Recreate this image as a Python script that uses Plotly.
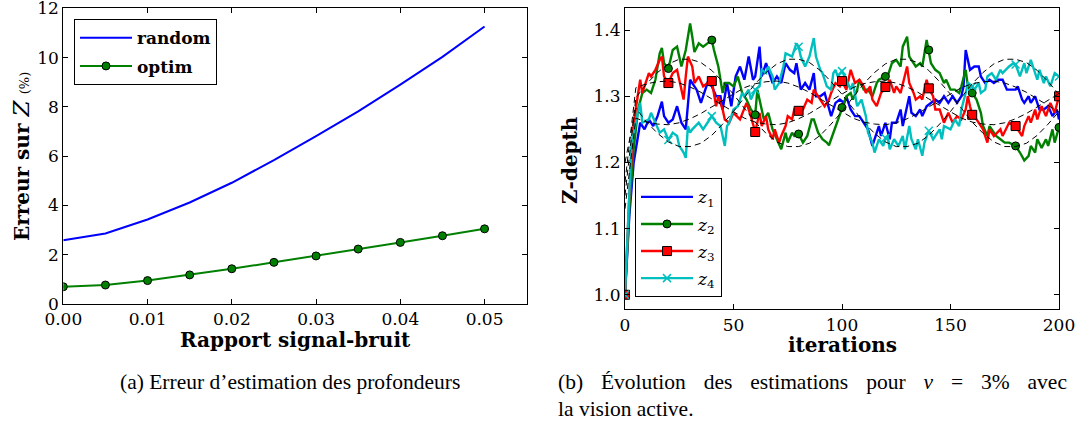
import plotly.graph_objects as go

# (a) erreur d'estimation des profondeurs
snr = [0.0, 0.005, 0.01, 0.015, 0.02, 0.025, 0.03, 0.035, 0.04, 0.045, 0.05]
err_random = [2.59, 2.86, 3.43, 4.12, 4.92, 5.84, 6.81, 7.82, 8.9, 10.03, 11.26]
err_optim = [0.70, 0.77, 0.95, 1.18, 1.43, 1.69, 1.95, 2.23, 2.50, 2.77, 3.05]

# (b) evolution des estimations (iteration, valeur)
it_z1 = [0, 2, 4, 6, 7, 9, 11, 13, 15, 17, 18, 20, 22, 24, 26, 28, 30, 31, 33, 35,
         37, 38, 40, 42, 44, 45, 47, 49, 51, 53, 55, 57, 59, 60, 62, 63, 65, 66, 68, 70,
         72, 74, 76, 78, 79, 81, 83, 85, 87, 88, 90, 92, 94, 95, 97, 99, 101, 102, 104, 106,
         108, 110, 112, 114, 115, 117, 118, 120, 122, 123, 125, 127, 128, 131, 132, 134, 136, 137, 139, 141,
         143, 145, 147, 149, 151, 153, 155, 156, 157, 159, 161, 163, 164, 166, 168, 170, 172, 174, 176, 178,
         180, 181, 183, 184, 186, 187, 189, 191, 193, 195, 197, 199, 200]
z1 = [1.0, 1.12, 1.2, 1.245, 1.26, 1.25, 1.265, 1.255, 1.27, 1.292, 1.27, 1.26, 1.265, 1.285, 1.26, 1.25, 1.325, 1.32, 1.31, 1.29,
      1.31, 1.32, 1.315, 1.30, 1.30, 1.28, 1.32, 1.285, 1.33, 1.345, 1.325, 1.36, 1.325, 1.33, 1.375, 1.33, 1.35, 1.34, 1.32, 1.33,
      1.32, 1.35, 1.34, 1.335, 1.35, 1.31, 1.32, 1.31, 1.335, 1.30, 1.30, 1.305, 1.28, 1.27, 1.29, 1.295, 1.29, 1.30, 1.28, 1.27,
      1.27, 1.26, 1.25, 1.225, 1.235, 1.255, 1.24, 1.26, 1.235, 1.26, 1.26, 1.28, 1.255, 1.30, 1.275, 1.27, 1.28, 1.27, 1.285, 1.29,
      1.295, 1.29, 1.30, 1.29, 1.30, 1.29, 1.30, 1.315, 1.37, 1.34, 1.345, 1.345, 1.33, 1.32, 1.325, 1.32, 1.325, 1.325, 1.31, 1.31,
      1.31, 1.315, 1.295, 1.29, 1.30, 1.29, 1.30, 1.28, 1.28, 1.285, 1.27, 1.28, 1.265]

it_z2 = [0, 2, 4, 6, 8, 10, 12, 14, 16, 17, 18, 20, 22, 24, 26, 28, 29, 30, 31, 32,
         34, 36, 38, 40, 41, 42, 43, 45, 46, 48, 50, 52, 54, 56, 58, 60, 61, 63, 64, 66,
         68, 70, 72, 74, 75, 77, 78, 80, 82, 84, 86, 87, 89, 91, 93, 94, 96, 98, 100, 102,
         104, 105, 107, 108, 110, 112, 114, 116, 117, 120, 121, 123, 125, 127, 128, 130, 131, 133, 134, 136,
         137, 139, 140, 141, 143, 145, 147, 148, 150, 152, 154, 155, 157, 158, 160, 162, 164, 165, 167, 168,
         170, 171, 173, 175, 177, 180, 182, 184, 186, 187, 189, 190, 192, 194, 195, 197, 198, 200]
z2 = [1.0, 1.13, 1.22, 1.28, 1.305, 1.31, 1.305, 1.325, 1.365, 1.373, 1.35, 1.342, 1.37, 1.375, 1.345, 1.37, 1.39, 1.41, 1.39, 1.367,
      1.38, 1.375, 1.38, 1.385, 1.37, 1.355, 1.345, 1.305, 1.32, 1.32, 1.315, 1.33, 1.305, 1.295, 1.28, 1.272, 1.31, 1.28, 1.265, 1.275,
      1.25, 1.235, 1.22, 1.245, 1.23, 1.245, 1.24, 1.243, 1.23, 1.24, 1.265, 1.265, 1.245, 1.235, 1.23, 1.226, 1.244, 1.262, 1.283, 1.30,
      1.305, 1.295, 1.31, 1.325, 1.31, 1.31, 1.30, 1.32, 1.325, 1.33, 1.33, 1.35, 1.355, 1.345, 1.375, 1.39, 1.36, 1.35, 1.345, 1.35,
      1.345, 1.385, 1.37, 1.35, 1.34, 1.335, 1.32, 1.325, 1.31, 1.31, 1.305, 1.315, 1.34, 1.315, 1.305, 1.295, 1.275, 1.255, 1.24, 1.255,
      1.245, 1.24, 1.235, 1.23, 1.23, 1.225, 1.215, 1.203, 1.21, 1.225, 1.215, 1.235, 1.222, 1.235, 1.225, 1.25, 1.23, 1.253]

it_z3 = [0, 2, 4, 5, 7, 8, 11, 12, 14, 16, 17, 18, 20, 22, 24, 25, 27, 28, 29, 31,
         32, 34, 36, 38, 40, 42, 43, 45, 46, 48, 50, 53, 55, 56, 58, 60, 62, 63, 65, 66,
         68, 69, 71, 72, 74, 75, 77, 78, 80, 82, 84, 86, 87, 88, 90, 92, 94, 95, 97, 99,
         100, 102, 104, 106, 108, 110, 111, 113, 114, 116, 118, 120, 122, 124, 125, 127, 130, 131, 133, 134,
         136, 137, 139, 140, 142, 143, 145, 147, 149, 151, 153, 155, 157, 158, 159, 160, 162, 164, 165, 167,
         168, 170, 173, 174, 176, 177, 180, 183, 184, 186, 187, 189, 190, 192, 194, 196, 198, 200]
z3 = [1.0, 1.15, 1.26, 1.28, 1.325, 1.305, 1.335, 1.33, 1.34, 1.355, 1.36, 1.33, 1.32, 1.335, 1.34, 1.325, 1.295, 1.33, 1.36, 1.345,
      1.32, 1.33, 1.315, 1.32, 1.323, 1.285, 1.30, 1.28, 1.265, 1.26, 1.275, 1.265, 1.28, 1.29, 1.27, 1.246, 1.275, 1.255, 1.27, 1.25,
      1.235, 1.25, 1.23, 1.24, 1.255, 1.27, 1.265, 1.28, 1.278, 1.28, 1.295, 1.29, 1.31, 1.305, 1.295, 1.285, 1.295, 1.305, 1.32, 1.315,
      1.323, 1.31, 1.34, 1.32, 1.325, 1.315, 1.305, 1.315, 1.295, 1.285, 1.305, 1.314, 1.325, 1.305, 1.315, 1.305, 1.345, 1.32, 1.305, 1.295,
      1.30, 1.295, 1.325, 1.312, 1.30, 1.28, 1.28, 1.26, 1.275, 1.26, 1.27, 1.265, 1.28, 1.30, 1.285, 1.272, 1.265, 1.255, 1.25, 1.23,
      1.25, 1.24, 1.25, 1.24, 1.255, 1.26, 1.255, 1.24, 1.255, 1.27, 1.26, 1.28, 1.265, 1.285, 1.27, 1.29, 1.275, 1.30]

it_z4 = [0, 2, 3, 5, 7, 8, 11, 12, 14, 16, 18, 20, 22, 24, 25, 27, 28, 29, 30, 31,
         34, 36, 38, 40, 42, 44, 45, 46, 47, 48, 50, 52, 54, 55, 57, 58, 60, 62, 63, 65,
         66, 68, 69, 71, 73, 74, 77, 79, 80, 81, 83, 85, 87, 88, 90, 91, 93, 95, 96, 97,
         98, 100, 102, 104, 105, 107, 109, 111, 112, 114, 115, 117, 119, 120, 121, 122, 124, 126, 128, 129,
         131, 132, 134, 135, 137, 138, 140, 142, 144, 145, 146, 147, 150, 152, 154, 155, 157, 158, 160, 161,
         163, 164, 166, 167, 169, 171, 173, 174, 177, 179, 180, 182, 184, 185, 187, 188, 190, 191, 193, 194,
         196, 198, 200]
z4 = [1.0, 1.14, 1.23, 1.26, 1.29, 1.26, 1.265, 1.275, 1.26, 1.245, 1.25, 1.234, 1.245, 1.24, 1.225, 1.215, 1.207, 1.255, 1.245, 1.25,
      1.26, 1.25, 1.26, 1.27, 1.26, 1.255, 1.24, 1.225, 1.255, 1.26, 1.28, 1.285, 1.305, 1.30, 1.31, 1.295, 1.31, 1.315, 1.34, 1.335,
      1.345, 1.33, 1.31, 1.32, 1.345, 1.365, 1.36, 1.38, 1.375, 1.36, 1.345, 1.36, 1.388, 1.36, 1.34, 1.335, 1.315, 1.31, 1.335, 1.34,
      1.33, 1.338, 1.325, 1.31, 1.32, 1.285, 1.295, 1.27, 1.245, 1.23, 1.215, 1.235, 1.225, 1.237, 1.24, 1.22, 1.235, 1.225, 1.24, 1.22,
      1.255, 1.235, 1.22, 1.235, 1.21, 1.23, 1.248, 1.235, 1.245, 1.25, 1.235, 1.255, 1.25, 1.265, 1.255, 1.28, 1.305, 1.32, 1.315, 1.31,
      1.32, 1.305, 1.31, 1.33, 1.335, 1.325, 1.34, 1.335, 1.345, 1.35, 1.348, 1.33, 1.35, 1.335, 1.355, 1.345, 1.325, 1.34, 1.32, 1.33,
      1.315, 1.335, 1.33]

# courbes de reference (tirets noirs), une valeur toutes les 5 iterations
it_ref = list(range(0, 201, 5))
ref_a = [1.15,
         1.298, 1.319, 1.336, 1.349, 1.356, 1.356, 1.351, 1.339, 1.322, 1.303,
         1.282, 1.261, 1.244, 1.231, 1.224, 1.224, 1.229, 1.241, 1.258, 1.277,
         1.298, 1.319, 1.336, 1.349, 1.356, 1.356, 1.351, 1.339, 1.322, 1.303,
         1.282, 1.261, 1.244, 1.231, 1.224, 1.224, 1.229, 1.241, 1.258, 1.277]
ref_b = [1.20,
         1.282, 1.261, 1.244, 1.231, 1.224, 1.224, 1.229, 1.241, 1.258, 1.277,
         1.298, 1.319, 1.336, 1.349, 1.356, 1.356, 1.351, 1.339, 1.322, 1.303,
         1.282, 1.261, 1.244, 1.231, 1.224, 1.224, 1.229, 1.241, 1.258, 1.277,
         1.298, 1.319, 1.336, 1.349, 1.356, 1.356, 1.351, 1.339, 1.322, 1.303]
ref_c = [1.17,
         1.313, 1.319, 1.322, 1.323, 1.320, 1.314, 1.306, 1.296, 1.286, 1.276,
         1.267, 1.261, 1.258, 1.257, 1.260, 1.266, 1.274, 1.284, 1.294, 1.304,
         1.313, 1.319, 1.322, 1.323, 1.320, 1.314, 1.306, 1.296, 1.286, 1.276,
         1.267, 1.261, 1.258, 1.257, 1.260, 1.266, 1.274, 1.284, 1.294, 1.304]
ref_d = [1.13,
         1.267, 1.261, 1.258, 1.257, 1.260, 1.266, 1.274, 1.284, 1.294, 1.304,
         1.313, 1.319, 1.322, 1.323, 1.320, 1.314, 1.306, 1.296, 1.286, 1.276,
         1.267, 1.261, 1.258, 1.257, 1.260, 1.266, 1.274, 1.284, 1.294, 1.304,
         1.313, 1.319, 1.322, 1.323, 1.320, 1.314, 1.306, 1.296, 1.286, 1.276]

W, H = 1083, 427
TICK_FONT = dict(family="DejaVu Serif", size=17, color="black")
LABEL_FONT = dict(family="DejaVu Serif", size=20, color="black")
CAPTION_FONT = dict(family="Liberation Serif", size=21.5, color="black")


def every20(its, vals):
    pts = [(i, v) for i, v in zip(its, vals) if i % 20 == 0]
    return [p[0] for p in pts], [p[1] for p in pts]


fig = go.Figure()

# --- left panel ---
fig.add_trace(go.Scatter(
    x=snr, y=err_random, name="<b>random</b>", mode="lines",
    line=dict(color="#0000ff", width=2), legendgroup="r",
))
fig.add_trace(go.Scatter(
    x=snr, y=err_optim, name="<b>optim</b>", mode="lines+markers",
    line=dict(color="#008000", width=2),
    marker=dict(symbol="circle", size=8, color="#008000", line=dict(color="black", width=1)),
    legendgroup="o",
))

# --- right panel ---
series = [
    ("<i>z</i><sub>1</sub>", it_z1, z1, "#0000ff", None),
    ("<i>z</i><sub>2</sub>", it_z2, z2, "#008000", dict(symbol="circle", size=8, color="#008000",
                                                          line=dict(color="black", width=1))),
    ("<i>z</i><sub>3</sub>", it_z3, z3, "#ff0000", dict(symbol="square", size=9, color="#ff0000",
                                                          line=dict(color="black", width=1))),
    ("<i>z</i><sub>4</sub>", it_z4, z4, "#00bfbf", dict(symbol="x-thin", size=8,
                                                          line=dict(color="#00bfbf", width=1.5))),
]

for name, its, vals, color, marker in series:
    fig.add_trace(go.Scatter(
        x=its, y=vals, mode="lines", line=dict(color=color, width=2.4),
        xaxis="x2", yaxis="y2", showlegend=False, hoverinfo="skip",
    ))

for name, its, vals, color, marker in series:
    if marker is not None:
        mx, my = every20(its, vals)
        fig.add_trace(go.Scatter(
            x=mx, y=my, mode="markers", marker=marker,
            xaxis="x2", yaxis="y2", showlegend=False, hoverinfo="skip",
        ))

for ref in [ref_a, ref_b, ref_c, ref_d]:
    fig.add_trace(go.Scatter(
        x=it_ref, y=ref, mode="lines", line=dict(color="black", width=1, dash="6px,4px"),
        xaxis="x2", yaxis="y2", showlegend=False, hoverinfo="skip",
    ))

# legend entries for the right panel
for k, (name, its, vals, color, marker) in enumerate(series):
    fig.add_trace(go.Scatter(
        x=[None], y=[None], name=name,
        mode="lines" if marker is None else "lines+markers",
        line=dict(color=color, width=2.4), marker=marker,
        xaxis="x2", yaxis="y2", legend="legend2", legendgroup=f"z{k}",
    ))

axis_style = dict(
    showline=True, linecolor="black", linewidth=1, mirror="allticks",
    ticks="inside", ticklen=5, tickcolor="black", tickwidth=1,
    showgrid=False, zeroline=False, tickfont=TICK_FONT,
    automargin=False, ticklabeloverflow="allow",
)

# caption (b), first line stretched like the justified original
gap = "\u2002 \u200a"
caption_b = gap.join(["(b)", "Évolution", "des", "estimations", "pour", "<i>ν</i>", "=", "3%", "avec"])

fig.update_layout(
    template="none",
    width=W, height=H,
    margin=dict(l=0, r=0, t=0, b=0, autoexpand=False),
    paper_bgcolor="white", plot_bgcolor="white",
    font=dict(family="DejaVu Serif", color="black"),
    xaxis=dict(domain=[63.3 / W, 526.7 / W], range=[0, 0.055], dtick=0.01, tick0=0,
               tickformat=".2f", anchor="y", **axis_style),
    yaxis=dict(domain=[1 - 304 / H, 1 - 8.3 / H], range=[0, 12], dtick=2, tick0=0,
               anchor="x", **axis_style),
    xaxis2=dict(domain=[625 / W, 1059 / W], range=[0, 200], dtick=50, tick0=0,
                anchor="y2", **axis_style),
    yaxis2=dict(domain=[1 - 309.3 / H, 1 - 8.3 / H], range=[0.978, 1.433], dtick=0.1, tick0=1.0,
                tickformat=".1f", anchor="x2", **axis_style),
    legend=dict(
        x=74 / W, y=1 - 19.3 / H, xanchor="left", yanchor="top",
        bgcolor="white", bordercolor="black", borderwidth=1,
        font=dict(family="DejaVu Serif", size=17, color="black"),
        itemwidth=52, traceorder="grouped", tracegroupgap=3,
    ),
    legend2=dict(
        x=635 / W, y=1 - 178.3 / H, xanchor="left", yanchor="top",
        bgcolor="white", bordercolor="black", borderwidth=1,
        font=dict(family="DejaVu Serif", size=17, color="black"),
        itemwidth=52, traceorder="grouped", tracegroupgap=2,
    ),
    annotations=[
        dict(text="<b>Rapport signal-bruit</b>", x=295 / W, y=1 - 340 / H,
             xref="paper", yref="paper", showarrow=False, font=LABEL_FONT,
             xanchor="center", yanchor="middle"),
        dict(text="<b>Erreur sur </b><i><span style='font-size:23px'>Z</span></i> "
                  "<span style='font-size:13px'>(%)</span>",
             x=20.5 / W, y=1 - 156.5 / H, xref="paper", yref="paper", showarrow=False,
             font=LABEL_FONT, textangle=-90, xanchor="center", yanchor="middle"),
        dict(text="<b>iterations</b>", x=842 / W, y=1 - 345 / H,
             xref="paper", yref="paper", showarrow=False, font=LABEL_FONT,
             xanchor="center", yanchor="middle"),
        dict(text="<b>Z-depth</b>", x=570 / W, y=1 - 160 / H,
             xref="paper", yref="paper", showarrow=False, font=LABEL_FONT,
             textangle=-90, xanchor="center", yanchor="middle"),
        dict(text="(a) Erreur d’estimation des profondeurs", x=118 / W, y=1 - 382 / H,
             xref="paper", yref="paper", showarrow=False, font=CAPTION_FONT,
             xanchor="left", yanchor="middle"),
        dict(text=caption_b, x=556 / W, y=1 - 382 / H,
             xref="paper", yref="paper", showarrow=False, font=CAPTION_FONT,
             xanchor="left", yanchor="middle"),
        dict(text="la vision active.", x=556 / W, y=1 - 409 / H,
             xref="paper", yref="paper", showarrow=False, font=CAPTION_FONT,
             xanchor="left", yanchor="middle"),
    ],
)

fig.write_html("out.html", config={"displayModeBar": False},
               post_script="document.body.style.margin = '0';")
